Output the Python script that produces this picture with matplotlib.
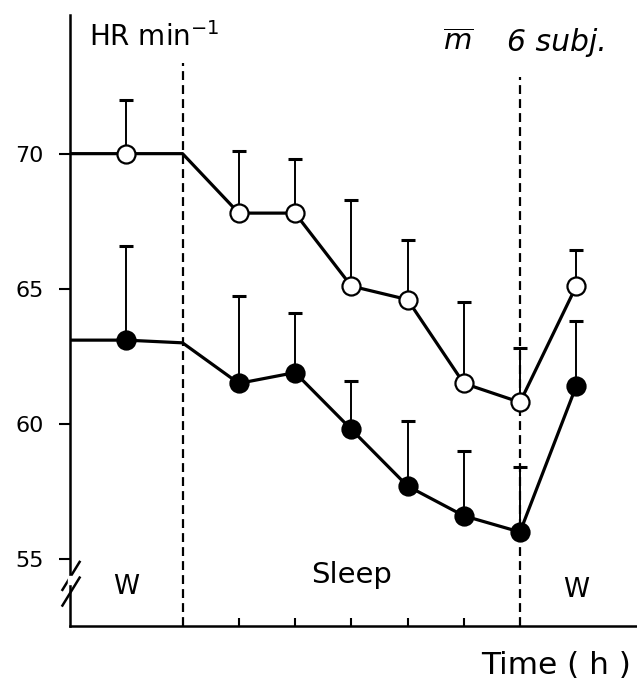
import matplotlib
matplotlib.use("Agg")
import matplotlib.pyplot as plt

# data (hours relative to sleep onset)
hours = [-1, 1, 2, 3, 4, 5, 6, 7]
hr_open = [70.0, 67.8, 67.8, 65.1, 64.6, 61.5, 60.8, 65.1]
sd_open = [2.0, 2.3, 2.0, 3.2, 2.2, 3.0, 2.0, 1.35]
hr_filled = [63.1, 61.5, 61.9, 59.8, 57.7, 56.6, 56.0, 61.4]
sd_filled = [3.5, 3.25, 2.2, 1.8, 2.4, 2.4, 2.4, 2.4]

# connecting line starts at the y axis, stays flat until sleep onset (0 h)
line_hours = [-2, -1, 0, 1, 2, 3, 4, 5, 6, 7]
line_open = [70.0, 70.0, 70.0] + hr_open[1:]
line_filled = [63.1, 63.1, 63.0] + hr_filled[1:]

yticks = [55, 60, 65, 70]
xticks = [1, 2, 3, 4, 5]

plt.rcParams['font.family'] = ['DejaVu Sans']

fig = plt.figure(figsize=(6.37, 6.82), dpi=100)
ax = fig.add_axes([0.110, 0.082, 0.890, 0.896])
ax.set_xlim(-2, 8.08)
ax.set_ylim(52.52, 75.13)

# dashed lines: sleep onset and awakening
ax.plot([0, 0], [52.52, 73.36], color='black', lw=1.6, ls=(0, (4, 2.3)), zorder=1)
ax.plot([6, 6], [52.52, 72.84], color='black', lw=1.6, ls=(0, (4, 2.3)), zorder=1)

for hr, sd, line, face in [(hr_open, sd_open, line_open, 'white'),
                           (hr_filled, sd_filled, line_filled, 'black')]:
    ax.errorbar(hours, hr, yerr=[[0] * len(sd), sd], fmt='none', ecolor='black',
                elinewidth=1.4, capsize=5, capthick=2.2, zorder=2)
    ax.plot(line_hours, line, color='black', lw=2.3, zorder=3)
    ax.plot(hours, hr, ls='none', marker='o', ms=13, mfc=face, mec='black',
            mew=1.6, zorder=4)

# axes styling
for s in ['top', 'right']:
    ax.spines[s].set_visible(False)
ax.spines['left'].set_linewidth(1.8)
ax.spines['bottom'].set_linewidth(1.8)
ax.set_yticks(yticks)
ax.set_yticklabels([str(v) for v in yticks], fontsize=16)
ax.tick_params(axis='y', direction='out', length=8, width=1.5, pad=11)
ax.set_xticks(xticks)
ax.set_xticklabels([])
ax.tick_params(axis='x', direction='in', length=6, width=1.5)

# axis break marks
ax.plot([0.110 - 0.012, 0.110 + 0.015], [0.0821 + 0.053, 0.0821 + 0.094],
        transform=fig.transFigure, color='black', lw=1.8, clip_on=False)
ax.plot([0.110 - 0.012, 0.110 + 0.015], [0.0821 + 0.030, 0.0821 + 0.071],
        transform=fig.transFigure, color='black', lw=1.8, clip_on=False)
fig.patches.append(plt.Rectangle((0.107, 0.0821 + 0.062), 0.006, 0.012,
                                 transform=fig.transFigure, color='white', zorder=5))

# labels
ax.text(0.033, 0.988, r'HR min$^{-1}$', transform=ax.transAxes, fontsize=20,
        ha='left', va='top')
ax.text(0.658, 0.978, r'$\overline{m}$', transform=ax.transAxes, fontsize=21,
        ha='left', va='top')
ax.text(0.77, 0.978, '6 subj.', transform=ax.transAxes, fontsize=21.5,
        ha='left', va='top', style='italic')
ax.text(-1, 53.96, 'W', fontsize=19, ha='center', va='center')
ax.text(7.0, 53.85, 'W', fontsize=19, ha='center', va='center')
ax.text(3.0, 54.4, 'Sleep', fontsize=21, ha='center', va='center')
fig.text(0.99, 0.003, 'Time ( h )', fontsize=22.5, ha='right', va='bottom')

fig.savefig('out.png', dpi=100)
